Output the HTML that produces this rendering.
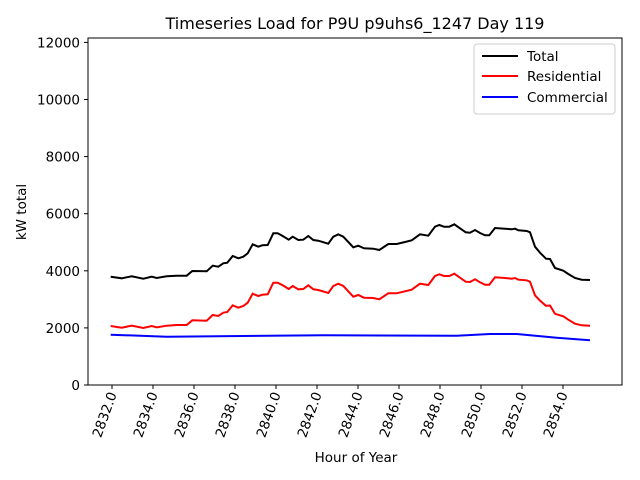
<!DOCTYPE html>
<html><head><meta charset="utf-8"><style>
html,body{margin:0;padding:0;background:#fff;}
svg{display:block;font-family:"DejaVu Sans","Liberation Sans",sans-serif;}
</style></head><body>
<svg id="s" width="640" height="480" viewBox="0 0 640 480" xmlns="http://www.w3.org/2000/svg">
<rect width="640" height="480" fill="#fff"/>
<text x="355" y="29" font-size="16" text-anchor="middle">Timeseries Load for P9U p9uhs6_1247  Day 119</text>
<g id="yt" font-size="13.5" text-anchor="end"></g>
<g id="xt" font-size="13.5"></g>
<text x="356" y="462" font-size="13.5" text-anchor="middle">Hour of Year</text>
<text transform="translate(26,212) rotate(-90)" font-size="13.5" text-anchor="middle">kW total</text>
<polyline id="pk" fill="none" stroke="#000" stroke-width="2"/>
<polyline id="pr" fill="none" stroke="#f00" stroke-width="2"/>
<polyline id="pb" fill="none" stroke="#00f" stroke-width="2"/>
<rect x="88" y="38" width="534" height="347" fill="none" stroke="#000" stroke-width="1"/>
<g>
<rect x="474" y="44" width="141" height="70" fill="#fff" stroke="#ccc" rx="3"/>
<line x1="482" y1="56" x2="518" y2="56" stroke="#000" stroke-width="2"/>
<text x="527" y="61" font-size="13.5">Total</text>
<line x1="482" y1="76" x2="518" y2="76" stroke="#f00" stroke-width="2"/>
<text x="527" y="81" font-size="13.5">Residential</text>
<line x1="482" y1="97" x2="518" y2="97" stroke="#00f" stroke-width="2"/>
<text x="527" y="102" font-size="13.5">Commercial</text>
</g>
</svg>
<script>
var NS="http://www.w3.org/2000/svg";
function el(t,a,p,txt){var e=document.createElementNS(NS,t);for(var k in a)e.setAttribute(k,a[k]);if(txt)e.textContent=txt;document.getElementById(p).appendChild(e);}
for(var v=0;v<=12000;v+=2000){var y=385-v*0.02855;el("line",{x1:84,x2:88,y1:y,y2:y,stroke:"#000"},"yt");el("text",{x:80,y:y+5},"yt",String(v));}
for(var h=2832;h<=2854;h+=2){var x=112+(h-2832)*20.5;el("line",{x1:x,x2:x,y1:385,y2:389,stroke:"#000"},"xt");el("text",{x:0,y:0,"text-anchor":"end",transform:"translate("+(x+5)+",394) rotate(-70)"},"xt",h.toFixed(1));}
var K=[[62,230],[95,235],[125,229],[160,236],[185,230],[200,234],[230,229],[260,227],[290,227],[307,213],[350,214],[368,197],[385,200],[400,190],[412,188],[428,168],[445,175],[460,170],[473,160],[488,133],[505,140],[517,136],[533,135],[550,100],[563,100],[578,108],[596,119],[608,110],[625,120],[640,119],[655,108],[670,120],[685,122],[715,131],[730,110],[745,103],[760,110],[790,142],[805,137],[822,145],[850,146],[868,150],[895,132],[920,132],[945,126],[965,121],[990,103],[1015,107],[1035,80],[1048,75],[1062,80],[1078,80],[1093,73],[1110,85],[1127,97],[1140,98],[1155,90],[1170,99],[1185,106],[1198,106],[1215,84],[1245,86],[1265,88],[1275,86],[1285,91],[1310,93],[1320,97],[1335,140],[1350,158],[1368,176],[1380,177],[1395,204],[1420,212],[1435,222],[1455,234],[1475,239],[1500,240]];
var B=[[62,404],[230,410],[700,406],[1100,407],[1200,402],[1280,402],[1400,413],[1500,421]];
function bAt(zx){for(var i=0;i<B.length-1;i++){if(zx<=B[i+1][0]){var t=(zx-B[i][0])/(B[i+1][0]-B[i][0]);return B[i][1]+t*(B[i+1][1]-B[i][1]);}}return B[B.length-1][1];}
function P(a){return a.map(function(p){return (p[0]/3+90).toFixed(1)+","+(p[1]/3+200).toFixed(1);}).join(" ");}
var R=K.map(function(p){var off=p[0]<1320?148:(p[0]<1400?148-(p[0]-1320)*0.14:137);return [p[0],p[1]+off];});
document.getElementById("pk").setAttribute("points",P(K));
document.getElementById("pr").setAttribute("points",P(R));
document.getElementById("pb").setAttribute("points",P(B));
</script>
</body></html>
